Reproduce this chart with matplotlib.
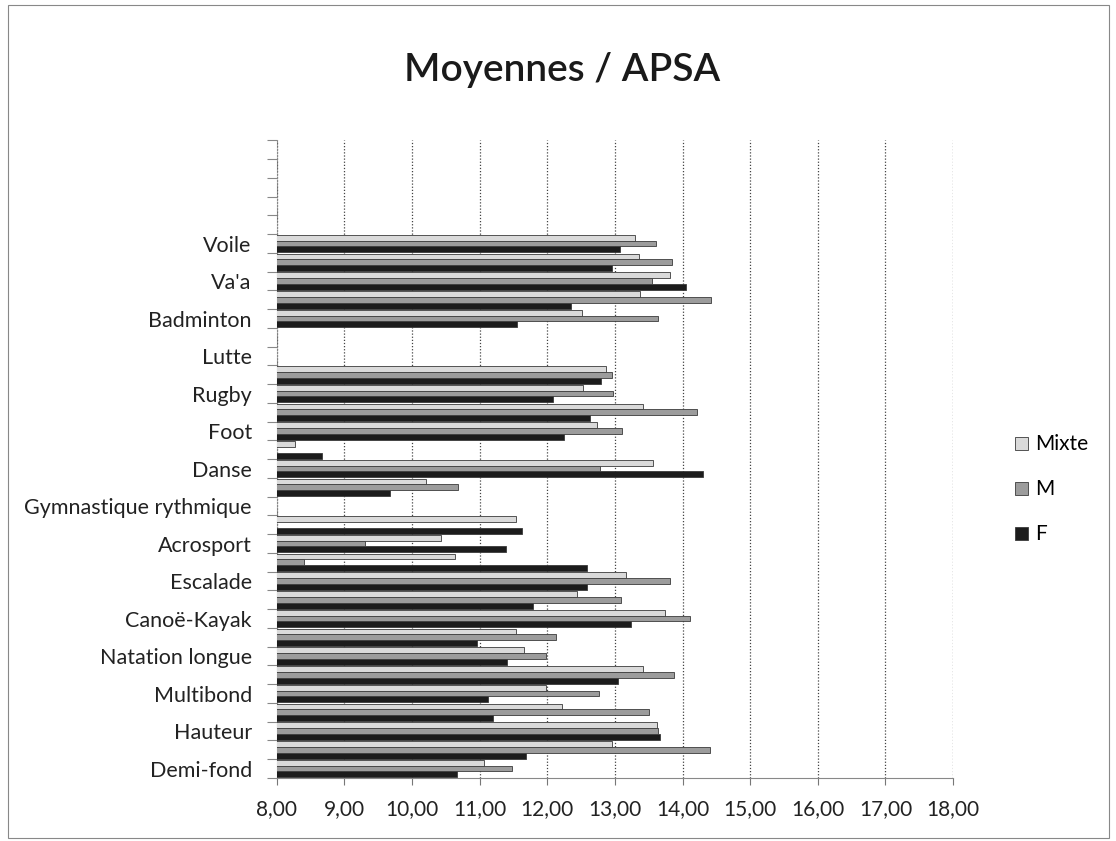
import numpy as np
import matplotlib
matplotlib.use("Agg")
import matplotlib.pyplot as plt
from matplotlib.patches import Rectangle
from matplotlib.ticker import FuncFormatter, FixedLocator

plt.rcParams['font.family'] = ['Lato', 'DejaVu Sans']

nan = np.nan
# 34 categories, bottom to top; only every other label is shown (Excel style)
categories = ["Demi-fond", "", "Hauteur", "", "Multibond", "", "Natation longue", "",
              "Canoë-Kayak", "", "Escalade", "", "Acrosport", "", "Gymnastique rythmique", "",
              "Danse", "", "Foot", "", "Rugby", "", "Lutte", "", "Badminton", "",
              "Va'a", "", "Voile", "", "", "", "", ""]
mixte = [11.07, 12.96, 13.62, 12.22, 11.98, 13.41, 11.66, 11.54, 13.74, 12.44, 13.17, 10.64,
         10.43, 11.54, nan, 10.21, 13.57, 8.27, 12.74, 13.41, 12.53, 12.87, nan, nan,
         12.51, 13.37, 13.81, 13.36, 13.30, nan, nan, nan, nan, nan]
m = [11.48, 14.41, 13.63, 13.50, 12.77, 13.88, 11.98, 12.13, 14.11, 13.09, 13.81, 8.40,
     9.30, nan, nan, 10.68, 12.78, nan, 13.10, 14.21, 12.97, 12.95, nan, nan,
     13.63, 14.42, 13.55, 13.85, 13.61, nan, nan, nan, nan, nan]
f = [10.66, 11.69, 13.66, 11.19, 11.12, 13.04, 11.41, 10.96, 13.24, 11.79, 12.59, 12.59,
     11.39, 11.62, nan, 9.67, 14.30, 8.67, 12.24, 12.63, 12.09, 12.79, nan, nan,
     11.55, 12.35, 14.05, 12.95, 13.07, nan, nan, nan, nan, nan]

series = [("F", f, "#1c1c1c"), ("M", m, "#9c9c9c"), ("Mixte", mixte, "#dadada")]

fig = plt.figure(figsize=(11.16, 8.41), dpi=100)
ax = fig.add_axes([0.248, 0.075, 0.606, 0.758])

n = len(categories)
y = np.arange(n)
h = 0.31
for k, (name, vals, col) in enumerate(series):
    vals = np.array(vals, dtype=float)
    ok = ~np.isnan(vals)
    ax.barh(y[ok] + (k - 1) * h, vals[ok], height=h, color=col,
            edgecolor="#3a3a3a", linewidth=0.6, label=name, zorder=3)

ax.set_xlim(8, 18)
ax.set_ylim(-0.5, n - 0.5)
ax.set_xticks(np.arange(8, 19, 1))
ax.xaxis.set_major_formatter(FuncFormatter(lambda v, p: f"{v:.2f}".replace(".", ",")))
ax.tick_params(axis="x", labelsize=15, length=5, color="#777777", pad=10, labelcolor="#222222")

# tick marks on category boundaries, labels at centres of every other category
ax.yaxis.set_major_locator(FixedLocator(np.arange(-0.5, n, 1)))
ax.yaxis.set_major_formatter(FuncFormatter(lambda v, p: ""))
ax.yaxis.set_minor_locator(FixedLocator(y[::2]))
ax.set_yticklabels([categories[i] for i in range(0, n, 2)], minor=True)
ax.tick_params(axis="y", which="major", length=7, color="#888888")
ax.tick_params(axis="y", which="minor", length=0, labelsize=15.5, pad=18, labelcolor="#222222")

ax.grid(axis="x", color="#444444", linestyle=(0, (1, 1.5)), linewidth=0.9, zorder=0)
for s in ["top", "right"]:
    ax.spines[s].set_visible(False)
ax.spines["left"].set_color("#888888")
ax.spines["left"].set_linestyle((0, (1, 1.5)))
ax.spines["bottom"].set_color("#888888")

fig.text(0.504, 0.917, "Moyennes / APSA", ha="center", va="center", fontsize=28,
         fontweight="semibold", color="#1a1a1a")

handles, labels = ax.get_legend_handles_labels()
fig.legend(handles[::-1], labels[::-1], loc="center left", bbox_to_anchor=(0.893, 0.418),
           frameon=False, fontsize=15, handlelength=0.6, handleheight=0.6,
           handletextpad=0.35, labelspacing=1.2)

fig.patches.append(Rectangle((0.007, 0.004), 0.987, 0.99, transform=fig.transFigure,
                             fill=False, edgecolor="#888888", linewidth=0.8))

fig.savefig("out.png", dpi=100)
